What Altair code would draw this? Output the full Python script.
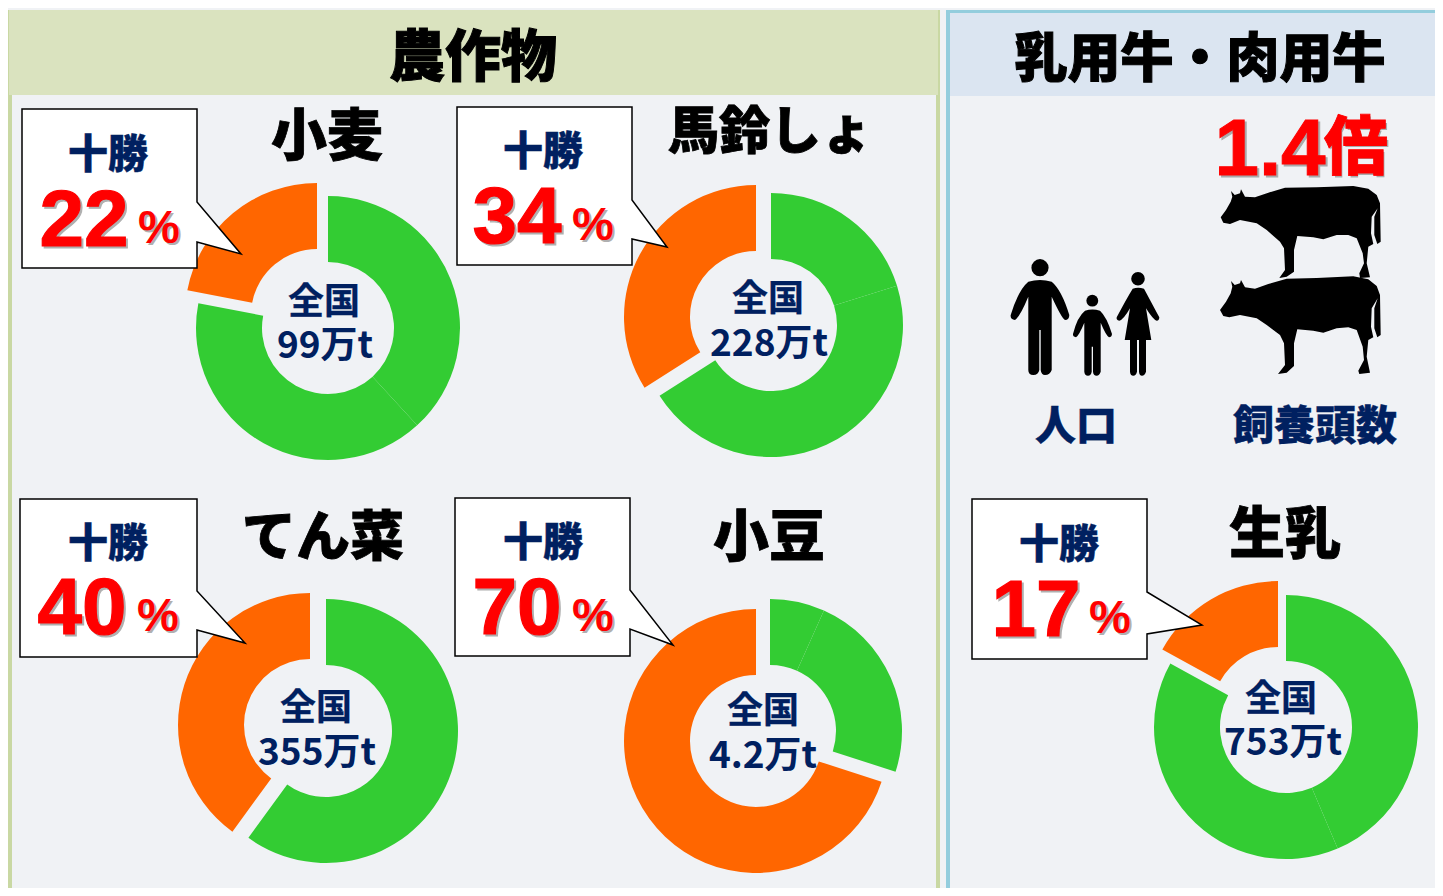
import re
import altair as alt
import pandas as pd

# ---- chart values ----
crops = ["小麦", "馬鈴しょ", "てん菜", "小豆", "生乳"]
tokachi_pct = [22, 34, 40, 70, 17]
national = ["99万t", "228万t", "355万t", "4.2万t", "753万t"]
# the rest of Japan is drawn as slices, share in percent
others_a = [38.2, 20.2, 60.0, 6.7, 43.6]
others_b = [39.8, 45.8, 0.0, 23.3, 39.4]
tokachi_label = "十勝"
national_label = "全国"

# ---- layout (page pixels) ----
green_c = [(328, 328), (771, 325), (326, 731), (770, 731), (1286, 727)]
orange_c = [(317, 315), (756, 317), (310, 725), (756, 741), (1278, 713)]
title_xy = [(327, 135), (770, 131), (323, 537), (769, 536), (1285, 533)]
title_size = [56, 51, 54, 56, 56]
head_xy = [(108, 153), (543, 150), (108, 542), (543, 541), (1059, 543)]
num_xy = [(84, 218), (517, 215), (82, 606), (517, 606), (1036, 608)]
pct_xy = [(159, 225), (593, 222), (158, 613), (593, 613), (1110, 615)]
zen_xy = [(324, 300), (768, 297), (316, 706), (763, 709), (1281, 697)]
tot_xy = [(325, 344), (769, 342), (317, 751), (763, 754), (1283, 741)]
boxes = [
    (22, 109, 197, 268, (197, 202), (241, 254), (197, 242)),
    (457, 107, 632, 265, (632, 200), (667, 247), (632, 239)),
    (20, 499, 197, 657, (197, 591), (245, 643), (197, 630)),
    (455, 498, 630, 656, (630, 590), (673, 645), (630, 629)),
    (972, 499, 1147, 659, (1147, 592), (1202, 625), (1147, 634)),
]

BG, NAVY, RED = "#f0f2f5", "#002060", "#ff0000"
JP, LAT = "Noto Sans CJK JP", "Liberation Sans"
W, H = 1427, 880
sx = alt.Scale(domain=[8, 1435], range=[0, W])
sy = alt.Scale(domain=[888, 8], range=[H, 0])


def X(f="x"):
    return alt.X(f"{f}:Q", scale=sx, axis=None)


def Y(f="y"):
    return alt.Y(f"{f}:Q", scale=sy, axis=None)


def text(rows, size, color=NAVY, font=JP, stroke=0.0, dx=0, dy=0, opacity=1.0, weight="bold"):
    df = pd.DataFrame(rows, columns=["x", "y", "t"])
    kw = dict(stroke=color, strokeWidth=stroke) if stroke else {}
    nudge = 3 if font == JP else 4
    return alt.Chart(df).mark_text(
        font=font, fontWeight=weight, fontSize=size, color=color, align="center",
        baseline="middle", dx=dx, dy=dy + nudge, opacity=opacity, **kw
    ).encode(x=X(), y=Y(), text="t:N")


def rect(x, y, x2, y2, color):
    df = pd.DataFrame([dict(x=x, y=y, x2=x2, y2=y2)])
    return alt.Chart(df).mark_rect(color=color).encode(
        x=X(), x2="x2:Q", y=Y(), y2="y2:Q"
    )


def shape(path, ax, ay, fill, stroke=None, sw=0):
    kw = dict(stroke=stroke, strokeWidth=sw) if stroke else dict(strokeWidth=0)
    return alt.Chart(pd.DataFrame([dict(x=ax, y=ay)])).mark_point(
        shape=path, size=4, filled=True, fill=fill, opacity=1, **kw
    ).encode(x=X(), y=Y())


def icon(s, ax, ay):
    """Outline noted from a 3x crop whose corner is (940, 0)."""
    out, i = [], 0
    for tok in re.findall(r"[A-Za-z]|-?[\d.]+", s):
        if tok.isalpha():
            out.append(tok)
        else:
            v = float(tok)
            out.append(f"{(v / 3 + 940 - ax) if i % 2 == 0 else (v / 3 - ay):.1f}")
            i += 1
    return " ".join(out)


layers = [
    rect(8, 10, 940, 888, "#c9d8a3"),
    rect(12, 95, 936, 888, BG),
    rect(9, 10, 938, 95, "#dae3bf"),
    rect(946, 10, 1435, 888, "#93cddd"),
    rect(950, 13, 1435, 888, BG),
    rect(950, 13, 1435, 96, "#dbe5f1"),
]

# ---- donuts ----
rows = []
for i, c in enumerate(crops):
    p = tokachi_pct[i] / 100
    a = others_a[i] / 100
    b = others_b[i] / 100
    rows.append(dict(crop=c, part="十勝", s=1 - p, e=1.0, x=orange_c[i][0], y=orange_c[i][1]))
    rows.append(dict(crop=c, part="他a", s=0.0, e=a, x=green_c[i][0], y=green_c[i][1]))
    if b > 0:
        rows.append(dict(crop=c, part="他b", s=a, e=a + b, x=green_c[i][0], y=green_c[i][1]))
arc = pd.DataFrame(rows)
layers.append(
    alt.Chart(arc).mark_arc(radius=132, radius2=66).encode(
        x=X(), y=Y(),
        theta=alt.Theta("s:Q", scale=alt.Scale(domain=[0, 1], range=[0, 6.283185307])),
        theta2="e:Q",
        color=alt.Color("part:N", legend=None,
                        scale=alt.Scale(domain=["十勝", "他a", "他b"],
                                        range=["#ff6600", "#33cc33", "#33cc33"])),
    )
)

# ---- callouts ----
for (x0, y0, x1, y1, t1, tip, t2) in boxes:
    pts = [(x0, y0), (x1, y0), t1, tip, t2, (x1, y1), (x0, y1)]
    d = "M" + " L".join(f"{px - x0} {py - y0}" for px, py in pts) + " Z"
    layers.append(shape(d, x0, y0, "white", "black", 1.5))

# ---- people and cows ----
man = ("M265 845 Q300 835 335 845 Q365 870 388 945 Q388 960 375 960 Q365 955 335 890 "
       "L335 1110 Q330 1125 315 1125 Q304 1125 302 1110 L302 990 L298 990 L298 1110 "
       "Q295 1125 280 1125 Q265 1125 265 1110 L265 890 Q240 950 225 960 Q210 958 212 945 "
       "Q235 870 265 845 Z")
child = ("M435 932 Q457 925 480 932 Q500 950 516 1002 Q515 1012 507 1012 Q497 1005 482 968 "
         "L482 1115 Q478 1127 470 1127 Q460 1127 459 1115 L459 1040 L455 1040 L455 1115 "
         "Q453 1127 444 1127 Q434 1127 433 1115 L433 968 Q418 1005 408 1012 Q398 1010 399 1002 "
         "Q412 950 435 932 Z")
woman = ("M578 866 Q594 860 612 866 Q625 890 658 952 Q658 962 650 962 Q640 960 618 925 "
         "L634 1020 L618 1020 L618 1115 Q614 1127 606 1127 Q598 1127 597 1115 L597 1020 L591 1020 "
         "L591 1115 Q588 1127 580 1127 Q571 1127 570 1115 L570 1020 L554 1020 L570 925 "
         "Q550 960 538 962 Q528 960 530 952 Q560 895 578 866 Z")
cow1 = ("M842 652 L858 630 L872 605 L877 590 L873 573 L884 585 L900 580 L903 568 L915 590 L945 592 "
        "L985 578 L1035 563 L1130 562 L1240 558 L1285 566 L1310 585 L1320 610 L1322 725 L1312 732 "
        "L1303 705 L1303 650 L1313 625 L1295 650 L1293 700 L1300 732 L1285 740 L1280 790 L1290 832 "
        "L1260 834 L1258 820 L1272 790 L1268 760 L1250 715 L1225 705 L1190 705 L1150 718 L1120 712 "
        "L1072 708 L1062 750 L1062 815 L1040 830 L1018 834 L1035 810 L1032 745 L1020 725 L980 690 "
        "L950 670 L900 660 L870 672 L850 668 Z")
cow2 = ("M840 930 L858 905 L872 880 L877 860 L873 843 L884 855 L900 850 L903 840 L915 862 L945 866 "
        "L985 852 L1040 836 L1130 834 L1240 829 L1285 838 L1310 858 L1320 885 L1322 1005 L1312 1012 "
        "L1303 985 L1303 925 L1313 895 L1295 925 L1293 980 L1300 1012 L1285 1020 L1280 1070 L1290 1118 "
        "L1258 1122 L1255 1112 L1272 1080 L1268 1040 L1250 990 L1225 982 L1190 985 L1150 998 L1120 992 "
        "L1072 988 L1062 1030 L1062 1098 L1040 1118 L1014 1122 L1035 1095 L1032 1030 L1020 1005 "
        "L980 975 L950 955 L900 945 L868 952 L850 948 Z")
for d, ax, ay in [(man, 1040, 320), (child, 1092, 340), (woman, 1137, 320),
                  (cow1, 1300, 230), (cow2, 1300, 325)]:
    layers.append(shape(icon(d, ax, ay), ax, ay, "black"))

head_x = [1040, 1092.3, 1138]
head_y = [267.7, 300.7, 278.7]
head_area = [295, 140, 185]
layers.append(
    alt.Chart(pd.DataFrame(dict(x=head_x, y=head_y, a=head_area))).mark_circle(
        color="black", opacity=1
    ).encode(x=X(), y=Y(), size=alt.Size("a:Q", scale=None))
)

# ---- text ----
layers += [
    text([(473, 56, "農作物")], 56, "black", stroke=1.0, weight=900),
    text([(1200, 58, "乳用牛・肉用牛")], 53, "black", stroke=1.0, weight=900),
    text([(*head_xy[i], tokachi_label) for i in range(5)], 40, stroke=0.4, weight=900),
    text([(*zen_xy[i], national_label) for i in range(5)], 36, stroke=0.3),
    text([(*tot_xy[i], national[i]) for i in range(5)], 37),
    text([(1076, 425, "人口"), (1315, 425, "飼養頭数")], 41, stroke=0.4, weight=900),
]
for s in sorted(set(title_size)):
    layers.append(text([(*title_xy[i], crops[i]) for i in range(5) if title_size[i] == s],
                       s, "black", stroke=0.8, weight=900))
num_rows = [(*num_xy[i], str(tokachi_pct[i])) for i in range(5)]
pct_rows = [(*pct_xy[i], "%") for i in range(5)]
for rows_, size, st in [(num_rows, 80, 1.2), (pct_rows, 47, 0)]:
    layers.append(text(rows_, size, "#707070", LAT, dx=2, dy=2, opacity=0.55, stroke=st))
    layers.append(text(rows_, size, RED, LAT, stroke=st))
big_lat = [(1270, 147, "1.4")]
big_jp = [(1356, 147, "倍")]
layers += [
    text(big_lat, 80, "#707070", LAT, dx=2, dy=2, opacity=0.55, stroke=1.0),
    text(big_jp, 64, "#707070", JP, dx=2, dy=2, opacity=0.55),
    text(big_lat, 80, RED, LAT, stroke=1.0),
    text(big_jp, 64, RED, JP, stroke=0.8, weight=900),
]

chart = (
    alt.layer(*layers)
    .resolve_scale(color="independent")
    .properties(width=W, height=H, background=BG, padding=0,
                autosize=alt.AutoSizeParams(type="none"))
    .configure_view(stroke=None)
)
chart.save("out.html", embed_options={"renderer": "svg", "actions": False})
